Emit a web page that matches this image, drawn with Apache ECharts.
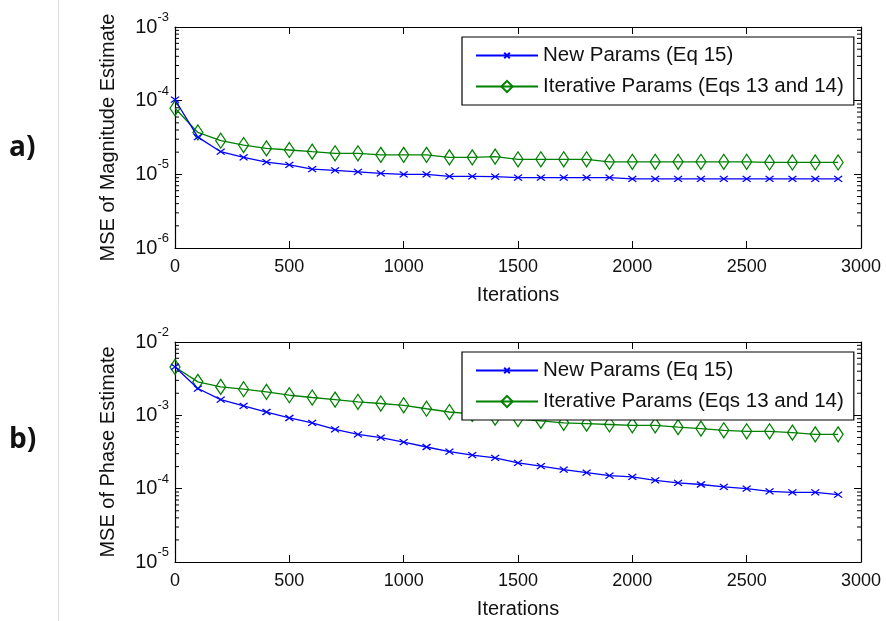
<!DOCTYPE html>
<html>
<head>
<meta charset="utf-8">
<script src="https://cdn.jsdelivr.net/npm/echarts@6/dist/echarts.min.js"></script>
<style>
  html, body { margin: 0; padding: 0; background: #fff; }
  #chart { width: 886px; height: 621px; }
</style>
</head>
<body>
<div id="chart"></div>
<script>
// Iteration counts where the MSE was sampled
const iterations = [0, 100, 200, 300, 400, 500, 600, 700, 800, 900,
  1000, 1100, 1200, 1300, 1400, 1500, 1600, 1700, 1800, 1900,
  2000, 2100, 2200, 2300, 2400, 2500, 2600, 2700, 2800, 2900];

// a) MSE of magnitude estimate
const magNew = [1.03e-4, 3.2e-5, 2.03e-5, 1.7e-5, 1.46e-5, 1.34e-5, 1.18e-5, 1.13e-5, 1.08e-5, 1.03e-5,
  1.0e-5, 1.0e-5, 0.94e-5, 0.94e-5, 0.93e-5, 0.9e-5, 0.9e-5, 0.9e-5, 0.9e-5, 0.9e-5,
  0.87e-5, 0.87e-5, 0.87e-5, 0.87e-5, 0.87e-5, 0.87e-5, 0.87e-5, 0.87e-5, 0.87e-5, 0.87e-5];
const magIter = [7.9e-5, 3.7e-5, 2.86e-5, 2.5e-5, 2.25e-5, 2.14e-5, 2.03e-5, 1.93e-5, 1.93e-5, 1.84e-5,
  1.84e-5, 1.84e-5, 1.7e-5, 1.7e-5, 1.74e-5, 1.6e-5, 1.6e-5, 1.6e-5, 1.6e-5, 1.48e-5,
  1.48e-5, 1.48e-5, 1.48e-5, 1.48e-5, 1.48e-5, 1.48e-5, 1.45e-5, 1.45e-5, 1.45e-5, 1.45e-5];

// b) MSE of phase estimate
const phaseNew = [4.57e-3, 2.32e-3, 1.64e-3, 1.35e-3, 1.11e-3, 9.2e-4, 7.9e-4, 6.45e-4, 5.5e-4, 4.97e-4,
  4.3e-4, 3.7e-4, 3.2e-4, 2.86e-4, 2.63e-4, 2.25e-4, 2.03e-4, 1.82e-4, 1.66e-4, 1.51e-4,
  1.45e-4, 1.3e-4, 1.2e-4, 1.14e-4, 1.06e-4, 1.0e-4, 9.2e-5, 8.9e-5, 8.9e-5, 8.3e-5];
const phaseIter = [4.57e-3, 2.86e-3, 2.44e-3, 2.27e-3, 2.09e-3, 1.88e-3, 1.75e-3, 1.64e-3, 1.53e-3, 1.45e-3,
  1.37e-3, 1.23e-3, 1.11e-3, 1.05e-3, 9.3e-4, 8.9e-4, 8.4e-4, 7.9e-4, 7.7e-4, 7.5e-4,
  7.3e-4, 7.3e-4, 6.9e-4, 6.6e-4, 6.25e-4, 6.06e-4, 6.06e-4, 5.8e-4, 5.5e-4, 5.5e-4];

const seriesNames = ['New Params (Eq 15)', 'Iterative Params (Eqs 13 and 14)'];
const yNames = ['MSE of Magnitude Estimate', 'MSE of Phase Estimate'];
const xName = 'Iterations';
const panelTags = ['a)', 'b)'];

const FONT = '"Liberation Sans", Arial, sans-serif';
const BLUE = '#0000ff';
const GREEN = '#008000';
// cross marker drawn in the middle half of its box (the corner points only pad the bounds)
const CROSS = 'path://M-5,-5L-5,-5M15,15L15,15M0,0L10,10M0,10L10,0';
const DIAMOND = 'path://M5,0L10,10L5,20L0,10Z';

const grids = [
  { left: 175, top: 27, width: 686, height: 221 },
  { left: 175, top: 342, width: 686, height: 220 }
];
const yRanges = [[1e-6, 1e-3], [1e-5, 1e-2]];

function pairs(ys) { return iterations.map((x, i) => [x, ys[i]]); }

function expLabel(v) {
  const e = Math.round(Math.log10(v));
  return '{b|10}{s|' + e + '}';
}

// 2..9 multiples inside each decade of a log range
function minorValues(range) {
  const out = [];
  const lo = Math.round(Math.log10(range[0])), hi = Math.round(Math.log10(range[1]));
  for (let e = lo; e < hi; e++) {
    for (let m = 2; m <= 9; m++) out.push([0, m * Math.pow(10, e)]);
  }
  return out;
}

const xAxes = [], yAxes = [];
grids.forEach((g, gi) => {
  const common = {
    gridIndex: gi, type: 'value', min: 0, max: 3000, interval: 500,
    axisLine: { show: true, onZero: false, lineStyle: { color: '#000', width: 1.2 } },
    axisTick: { show: true, inside: true, length: 7, lineStyle: { color: '#000' } },
    splitLine: { show: false }
  };
  xAxes.push(Object.assign({}, common, {
    position: 'bottom',
    name: xName, nameLocation: 'middle', nameGap: 37,
    nameTextStyle: { fontFamily: FONT, fontSize: 20, color: '#111' },
    axisLabel: { fontFamily: FONT, fontSize: 18, color: '#111', margin: 10, formatter: v => String(v) }
  }));
  xAxes.push(Object.assign({}, common, { position: 'top', axisLabel: { show: false } }));

  const yCommon = {
    gridIndex: gi, type: 'log', logBase: 10, min: yRanges[gi][0], max: yRanges[gi][1],
    axisLine: { show: true, onZero: false, lineStyle: { color: '#000', width: 1.2 } },
    axisTick: { show: true, inside: true, length: 7, lineStyle: { color: '#000' } },
    minorTick: { show: false },
    splitLine: { show: false }, minorSplitLine: { show: false }
  };
  yAxes.push(Object.assign({}, yCommon, {
    position: 'left',
    name: yNames[gi], nameLocation: 'middle', nameGap: 57, nameRotate: 90,
    nameTextStyle: { fontFamily: FONT, fontSize: 20, color: '#111' },
    axisLabel: {
      margin: 6, formatter: expLabel,
      rich: {
        b: { fontFamily: FONT, fontSize: 20, color: '#111', lineHeight: 20, verticalAlign: 'middle' },
        s: { fontFamily: FONT, fontSize: 13, color: '#111', lineHeight: 32, verticalAlign: 'top' }
      }
    }
  }));
  yAxes.push(Object.assign({}, yCommon, { position: 'right', axisLabel: { show: false } }));
});

const series = [];
const panels = [[magNew, magIter], [phaseNew, phaseIter]];
panels.forEach((pair, gi) => {
  // log-spaced minor ticks on the left and right frame edges
  series.push({
    type: 'custom', xAxisIndex: gi * 2, yAxisIndex: gi * 2, silent: true, clip: false, z: 1,
    data: minorValues(yRanges[gi]),
    renderItem: (params, api) => {
      const l = api.coord([0, api.value(1)]);
      const r = api.coord([3000, api.value(1)]);
      const st = { stroke: '#000', lineWidth: 1 };
      return {
        type: 'group', children: [
          { type: 'line', shape: { x1: l[0], y1: l[1], x2: l[0] + 4, y2: l[1] }, style: st },
          { type: 'line', shape: { x1: r[0], y1: r[1], x2: r[0] - 4, y2: r[1] }, style: st }
        ]
      };
    }
  });
  series.push({
    name: seriesNames[0], type: 'line', xAxisIndex: gi * 2, yAxisIndex: gi * 2,
    data: pairs(pair[0]), symbol: CROSS, symbolSize: [16, 12], showAllSymbol: true,
    lineStyle: { color: BLUE, width: 1.3 },
    itemStyle: { color: 'none', borderColor: BLUE, borderWidth: 1.3 },
    emphasis: { disabled: true }, z: 3
  });
  series.push({
    name: seriesNames[1], type: 'line', xAxisIndex: gi * 2, yAxisIndex: gi * 2,
    data: pairs(pair[1]), symbol: DIAMOND, symbolSize: [10, 15], showAllSymbol: true,
    lineStyle: { color: GREEN, width: 1.3 },
    itemStyle: { color: 'none', borderColor: GREEN, borderWidth: 1.3 },
    emphasis: { disabled: true }, z: 2
  });
});

const legends = [37, 352].map(top => ({
  data: seriesNames, orient: 'vertical', left: 462, top: top,
  padding: [8, 10, 8, 13], itemGap: 10, itemWidth: 62, itemHeight: 14,
  symbolKeepAspect: true,
  backgroundColor: '#fff', borderColor: '#000', borderWidth: 1.2,
  selectedMode: false,
  textStyle: { fontFamily: FONT, fontSize: 20.5, color: '#111', lineHeight: 20 }
}));

const tagFont = 'bold 28px "Open Sans", sans-serif';
const chart = echarts.init(document.getElementById('chart'), null, { renderer: 'canvas' });
chart.setOption({
  animation: false,
  backgroundColor: '#fff',
  grid: grids,
  xAxis: xAxes,
  yAxis: yAxes,
  legend: legends,
  series: series,
  graphic: [
    { type: 'line', shape: { x1: 58.5, y1: 0, x2: 58.5, y2: 621 }, style: { stroke: '#dcdcdc', lineWidth: 1 } },
    { type: 'text', x: 9, y: 148, style: { text: panelTags[0], font: tagFont, fill: '#111', verticalAlign: 'middle' } },
    { type: 'text', x: 9, y: 440, style: { text: panelTags[1], font: tagFont, fill: '#111', verticalAlign: 'middle' } }
  ]
});
</script>
</body>
</html>
